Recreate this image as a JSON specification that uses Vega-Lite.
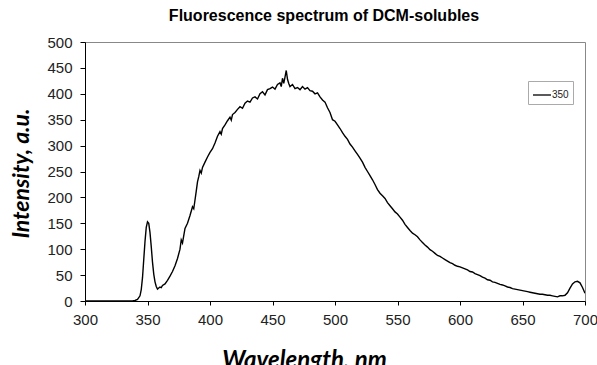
{
  "$schema": "https://vega.github.io/schema/vega-lite/v6.json",
  "width": 500,
  "height": 259,
  "autosize": {"type": "none"},
  "padding": {"left": 85, "top": 42, "right": 12, "bottom": 64},
  "background": "white",
  "title": {"text": "Fluorescence spectrum of DCM-solubles", "font": "Liberation Sans", "fontSize": 16, "fontWeight": "bold", "color": "#000", "anchor": "middle", "frame": "group", "dx": -11, "dy": 21, "offset": 19, "baseline": "alphabetic"},
  "data": {"values": [
    {"wl":300,"v":0},{"wl":310,"v":0},{"wl":320,"v":0},{"wl":330,"v":0},{"wl":338,"v":0},{"wl":340,"v":1},{"wl":342,"v":3},{"wl":344,"v":10},{"wl":345,"v":22},{"wl":346,"v":45},{"wl":347,"v":80},{"wl":348,"v":115},{"wl":349,"v":142},{"wl":350,"v":153},{"wl":351,"v":150},{"wl":352,"v":132},{"wl":353,"v":105},{"wl":354,"v":75},{"wl":355,"v":52},{"wl":356,"v":37},{"wl":357,"v":28},{"wl":358,"v":23},{"wl":359,"v":25},{"wl":360,"v":27},{"wl":361,"v":26},{"wl":362,"v":30},{"wl":364,"v":33},{"wl":366,"v":40},{"wl":368,"v":48},{"wl":370,"v":57},{"wl":372,"v":68},{"wl":374,"v":82},{"wl":376,"v":100},{"wl":377,"v":118},{"wl":378,"v":112},{"wl":380,"v":140},{"wl":382,"v":150},{"wl":384,"v":165},{"wl":386,"v":182},{"wl":387,"v":178},{"wl":388,"v":195},{"wl":389,"v":212},{"wl":390,"v":230},{"wl":391,"v":240},{"wl":392,"v":252},{"wl":393,"v":247},{"wl":394,"v":258},{"wl":396,"v":268},{"wl":398,"v":278},{"wl":400,"v":287},{"wl":402,"v":294},{"wl":404,"v":305},{"wl":406,"v":318},{"wl":408,"v":327},{"wl":409,"v":322},{"wl":410,"v":333},{"wl":412,"v":340},{"wl":414,"v":348},{"wl":416,"v":355},{"wl":417,"v":349},{"wl":418,"v":360},{"wl":420,"v":364},{"wl":422,"v":370},{"wl":424,"v":375},{"wl":426,"v":372},{"wl":428,"v":382},{"wl":430,"v":386},{"wl":432,"v":384},{"wl":434,"v":392},{"wl":436,"v":394},{"wl":438,"v":390},{"wl":440,"v":400},{"wl":442,"v":404},{"wl":444,"v":398},{"wl":446,"v":408},{"wl":448,"v":410},{"wl":450,"v":413},{"wl":452,"v":409},{"wl":454,"v":418},{"wl":456,"v":421},{"wl":457,"v":414},{"wl":458,"v":430},{"wl":459,"v":420},{"wl":460,"v":432},{"wl":461,"v":445},{"wl":462,"v":428},{"wl":463,"v":420},{"wl":464,"v":414},{"wl":466,"v":418},{"wl":468,"v":410},{"wl":470,"v":412},{"wl":472,"v":408},{"wl":474,"v":414},{"wl":476,"v":409},{"wl":478,"v":412},{"wl":480,"v":406},{"wl":482,"v":405},{"wl":484,"v":400},{"wl":486,"v":402},{"wl":488,"v":394},{"wl":490,"v":388},{"wl":492,"v":384},{"wl":494,"v":373},{"wl":496,"v":364},{"wl":498,"v":350},{"wl":500,"v":347},{"wl":502,"v":340},{"wl":504,"v":333},{"wl":506,"v":325},{"wl":508,"v":318},{"wl":510,"v":312},{"wl":512,"v":303},{"wl":514,"v":297},{"wl":516,"v":290},{"wl":518,"v":283},{"wl":520,"v":276},{"wl":522,"v":268},{"wl":524,"v":258},{"wl":526,"v":250},{"wl":528,"v":242},{"wl":530,"v":234},{"wl":532,"v":225},{"wl":534,"v":215},{"wl":536,"v":208},{"wl":538,"v":203},{"wl":540,"v":198},{"wl":542,"v":190},{"wl":544,"v":184},{"wl":546,"v":178},{"wl":548,"v":172},{"wl":550,"v":168},{"wl":552,"v":162},{"wl":554,"v":156},{"wl":556,"v":148},{"wl":558,"v":142},{"wl":560,"v":136},{"wl":562,"v":131},{"wl":564,"v":128},{"wl":566,"v":124},{"wl":568,"v":118},{"wl":570,"v":113},{"wl":572,"v":108},{"wl":574,"v":104},{"wl":576,"v":99},{"wl":578,"v":96},{"wl":580,"v":92},{"wl":582,"v":88},{"wl":584,"v":86},{"wl":586,"v":83},{"wl":588,"v":80},{"wl":590,"v":77},{"wl":592,"v":74},{"wl":594,"v":72},{"wl":596,"v":69},{"wl":598,"v":67},{"wl":600,"v":66},{"wl":602,"v":64},{"wl":604,"v":62},{"wl":606,"v":60},{"wl":608,"v":57},{"wl":610,"v":56},{"wl":612,"v":53},{"wl":614,"v":51},{"wl":616,"v":49},{"wl":618,"v":46},{"wl":620,"v":44},{"wl":622,"v":41},{"wl":624,"v":40},{"wl":626,"v":37},{"wl":628,"v":36},{"wl":630,"v":34},{"wl":632,"v":32},{"wl":634,"v":31},{"wl":636,"v":29},{"wl":638,"v":27},{"wl":640,"v":26},{"wl":642,"v":24},{"wl":644,"v":23},{"wl":646,"v":22},{"wl":648,"v":21},{"wl":650,"v":20},{"wl":652,"v":19},{"wl":654,"v":18},{"wl":656,"v":17},{"wl":658,"v":16},{"wl":660,"v":15},{"wl":662,"v":14},{"wl":664,"v":13},{"wl":666,"v":13},{"wl":668,"v":12},{"wl":670,"v":11},{"wl":672,"v":11},{"wl":674,"v":10},{"wl":676,"v":9},{"wl":678,"v":8},{"wl":680,"v":10},{"wl":682,"v":10},{"wl":684,"v":11},{"wl":686,"v":16},{"wl":688,"v":25},{"wl":690,"v":33},{"wl":692,"v":37},{"wl":694,"v":38},{"wl":696,"v":35},{"wl":698,"v":26},{"wl":700,"v":15}
  ]},
  "mark": {"type": "line", "strokeWidth": 1.4, "clip": true},
  "encoding": {
    "x": {"field": "wl", "type": "quantitative", "scale": {"domain": [300, 700], "nice": false, "zero": false},
      "axis": {"values": [300,350,400,450,500,550,600,650,700], "grid": false, "domainColor": "#000", "tickColor": "#000", "tickSize": 4, "labelFont": "Liberation Sans", "labelFontSize": 15, "labelColor": "#222", "labelPadding": 7, "labelFlush": false,
        "title": "Wavelength, nm", "titleFont": "Lato", "titleFontSize": 24, "titleFontStyle": "italic", "titleFontWeight": "bold", "titleColor": "#000", "titleX": 219, "titleY": 66, "titleAlign": "center", "titleBaseline": "alphabetic"}},
    "y": {"field": "v", "type": "quantitative", "scale": {"domain": [0, 500], "nice": false},
      "axis": {"values": [0,50,100,150,200,250,300,350,400,450,500], "grid": false, "domainColor": "#000", "tickColor": "#000", "tickSize": 5, "labelFont": "Liberation Sans", "labelFontSize": 15, "labelColor": "#222", "labelPadding": 8, "labelFlush": false,
        "title": "Intensity, a.u.", "titleFont": "Lato", "titleFontSize": 23, "titleFontStyle": "italic", "titleFontWeight": "bold", "titleColor": "#000", "titleX": -64, "titleY": 131, "titleAngle": -90, "titleAlign": "center", "titleBaseline": "middle"}},
    "color": {"datum": "350", "scale": {"range": ["#000"]},
      "legend": {"title": null, "orient": "none", "legendX": 443, "legendY": 39, "symbolType": "stroke", "symbolSize": 324, "symbolStrokeWidth": 1.3, "symbolStrokeColor": "#000", "labelFont": "Liberation Sans", "labelFontSize": 10, "labelColor": "#222", "labelOffset": 0, "padding": 4, "strokeColor": "#aaa", "fillColor": "#fff"}}
  },
  "config": {"view": {"stroke": "#888", "strokeWidth": 1}}
}
